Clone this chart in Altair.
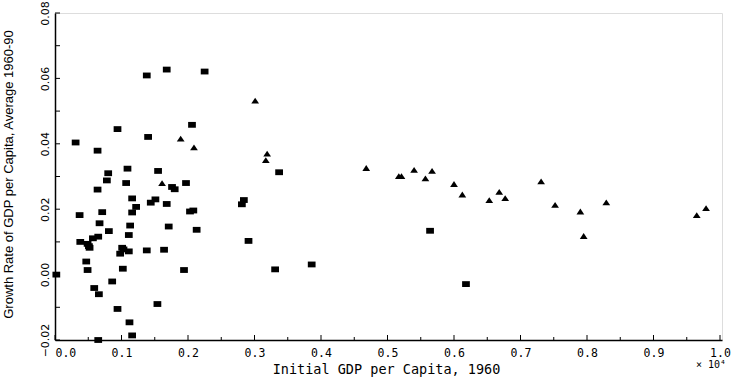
import altair as alt
import pandas as pd

# Initial GDP per capita 1960 (units of 10^4) and growth rate 1960-90
sq_x = [0.002, 0.031, 0.064, 0.094, 0.138, 0.168, 0.225, 0.140, 0.206, 0.080,
        0.078, 0.109, 0.107, 0.155, 0.064, 0.176, 0.180, 0.197, 0.116, 0.151,
        0.144, 0.168, 0.122, 0.116, 0.203, 0.208, 0.037, 0.071, 0.067, 0.081,
        0.113, 0.111, 0.171, 0.213, 0.038, 0.049, 0.051, 0.052, 0.057, 0.065,
        0.098, 0.101, 0.103, 0.111, 0.138, 0.164, 0.047, 0.049, 0.102, 0.194,
        0.059, 0.066, 0.086, 0.094, 0.154, 0.112, 0.116, 0.065, 0.281, 0.284,
        0.291, 0.337, 0.331, 0.386, 0.564, 0.618]
sq_y = [0.0000, 0.0404, 0.0379, 0.0445, 0.0609, 0.0627, 0.0621, 0.0421, 0.0458, 0.0310,
        0.0288, 0.0324, 0.0280, 0.0317, 0.0260, 0.0268, 0.0261, 0.0280, 0.0233, 0.0230,
        0.0220, 0.0216, 0.0207, 0.0190, 0.0193, 0.0196, 0.0182, 0.0191, 0.0157, 0.0133,
        0.0150, 0.0121, 0.0147, 0.0137, 0.0100, 0.0094, 0.0087, 0.0082, 0.0111, 0.0116,
        0.0064, 0.0082, 0.0077, 0.0071, 0.0074, 0.0076, 0.0040, 0.0014, 0.0018, 0.0014,
        -0.0041, -0.0060, -0.0021, -0.0105, -0.0090, -0.0146, -0.0186, -0.0200, 0.0215, 0.0228,
        0.0103, 0.0313, 0.0016, 0.0031, 0.0134, -0.0029]

tri_x = [0.161, 0.189, 0.209, 0.301, 0.319, 0.317, 0.468, 0.517, 0.521, 0.540,
         0.557, 0.567, 0.600, 0.6125, 0.653, 0.668, 0.677, 0.731, 0.752, 0.790,
         0.795, 0.829, 0.965, 0.979]
tri_y = [0.0280, 0.0416, 0.0389, 0.0532, 0.0370, 0.0350, 0.0326, 0.0301, 0.0301, 0.0320,
         0.0294, 0.0317, 0.0277, 0.0245, 0.0228, 0.0253, 0.0234, 0.0285, 0.0213, 0.0193,
         0.0118, 0.0221, 0.0182, 0.0203]

y_ticks = [-0.02, -0.01, 0.0, 0.01, 0.02, 0.03, 0.04, 0.05, 0.06, 0.07, 0.08]
y_labels = [-0.02, 0.0, 0.02, 0.04, 0.06, 0.08]
x_major = [0.0, 0.1, 0.2, 0.3, 0.4, 0.5, 0.6, 0.7, 0.8, 0.9, 1.0]
x_minor = [0.05, 0.15, 0.25, 0.35, 0.45, 0.55, 0.65, 0.75, 0.85, 0.95]

W, H = 667, 327

pts = pd.DataFrame({
    "gdp": sq_x + tri_x,
    "growth": sq_y + tri_y,
    "grp": ["sq"] * len(sq_x) + ["tri"] * len(tri_x),
})

xs = alt.Scale(domain=[0, 1.003], nice=False, zero=False)
ys = alt.Scale(domain=[-0.02, 0.08], nice=False, zero=False)

points = alt.Chart(pts).mark_point(filled=True, opacity=1, color="black", strokeWidth=0).encode(
    x=alt.X("gdp:Q", scale=xs, axis=alt.Axis(
        title="Initial GDP per Capita, 1960", values=x_major, format=".1f",
        ticks=False, domain=True, domainColor="black", domainWidth=1.5, grid=False,
        labelFont="DejaVu Sans Mono", labelFontSize=11.5, labelColor="black",
        labelPadding=7, labelFlush=1,
        titleFont="DejaVu Sans Mono", titleFontSize=13.5, titleFontWeight="normal",
        titleColor="black", titleX=331, titleY=29.5, titleBaseline="middle")),
    y=alt.Y("growth:Q", scale=ys, axis=alt.Axis(
        title="Growth Rate of GDP per Capita, Average 1960-90", values=y_labels, format=".2f",
        ticks=False, domain=True, domainColor="black", domainWidth=1.5, grid=False,
        labelFont="DejaVu Sans", labelFontSize=11, labelColor="black",
        labelAngle=270, labelAlign="center", labelBaseline="bottom", labelPadding=5,
        titleFont="Liberation Sans Narrow, Liberation Sans", titleFontSize=13,
        titleFontWeight="normal", titleColor="black", titleAngle=270,
        titleX=-40, titleY=161, titleAlign="center", titleBaseline="bottom")),
    shape=alt.Shape("grp:N", legend=None, scale=alt.Scale(
        domain=["sq", "tri"],
        range=["M-1,-0.75L1,-0.75L1,0.75L-1,0.75Z", "M-1,0.75L1,0.75L0,-0.75Z"])),
    size=alt.value(60),
)

ytick_df = pd.DataFrame({"v": y_ticks})
yticks = alt.Chart(ytick_df).mark_rule(color="black", strokeWidth=1).encode(
    y=alt.Y("v:Q", scale=ys), x=alt.value(0), x2=alt.value(5))

xmaj_df = pd.DataFrame({"v": x_major})
xmaj = alt.Chart(xmaj_df).mark_rule(color="black", strokeWidth=1).encode(
    x=alt.X("v:Q", scale=xs), y=alt.value(H), y2=alt.value(H - 5))

xmin_df = pd.DataFrame({"v": x_minor})
xmin = alt.Chart(xmin_df).mark_rule(color="black", strokeWidth=1).encode(
    x=alt.X("v:Q", scale=xs), y=alt.value(H), y2=alt.value(H - 3))

mult = alt.Chart(pd.DataFrame({"t": ["× 10⁴"]})).mark_text(
    font="DejaVu Sans Mono", fontSize=10, color="black", align="center", baseline="middle"
).encode(x=alt.value(656), y=alt.value(H + 25), text="t:N")

chart = alt.layer(yticks, xmaj, xmin, points, mult).properties(
    width=W, height=H,
    autosize=alt.AutoSizeParams(type="none"),
    padding={"left": 55, "top": 13, "right": 11, "bottom": 44},
).configure_view(stroke=None).configure(background="white")

chart.save("out.html", embed_options={"renderer": "svg", "actions": False})
